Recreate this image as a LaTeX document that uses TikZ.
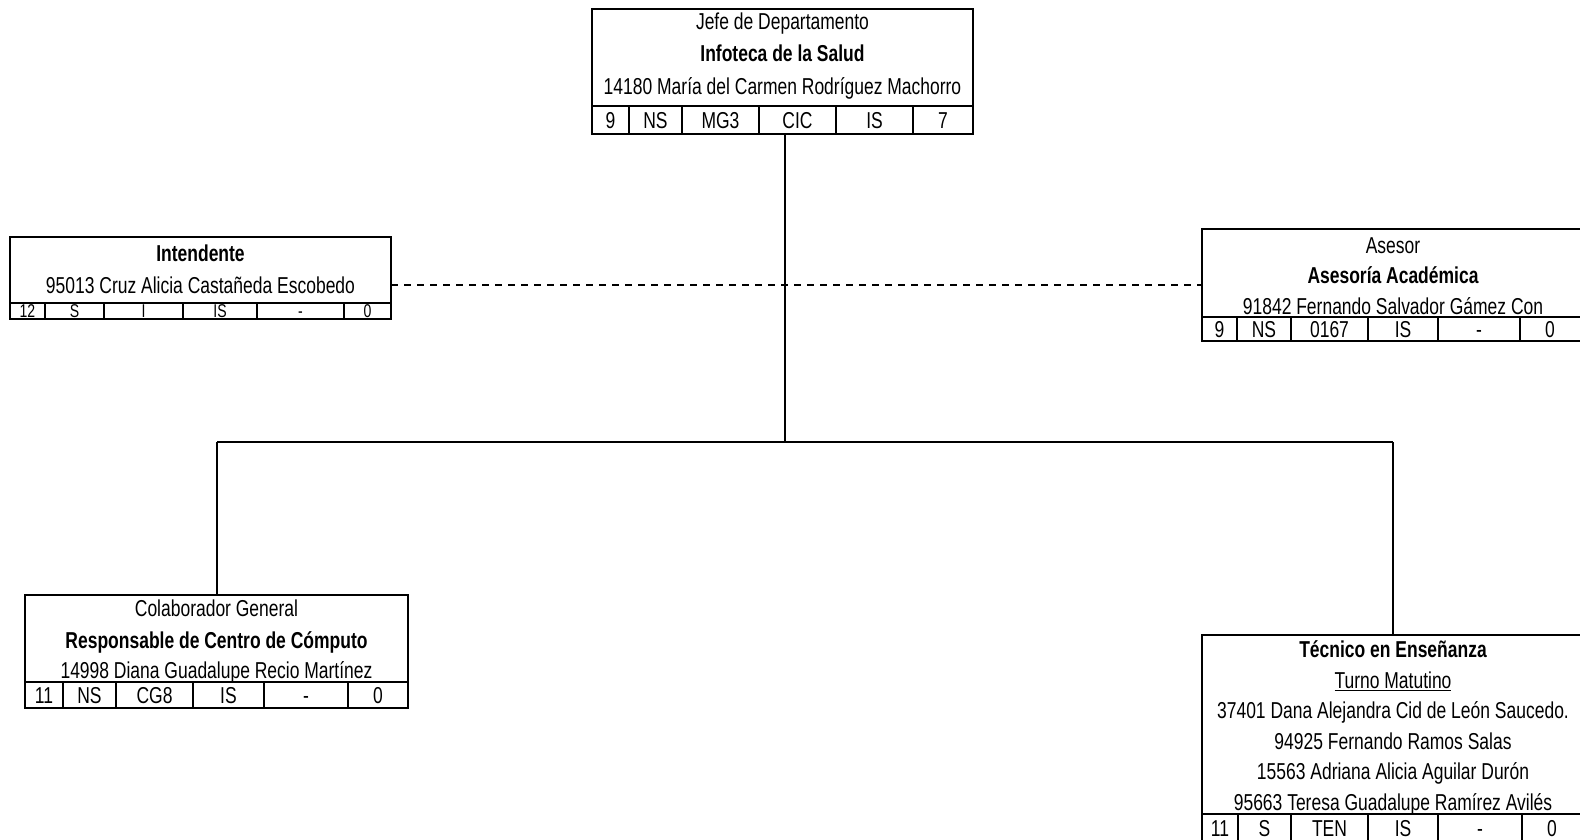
\documentclass[tikz,border=0pt]{standalone}
\usepackage{fontspec}
\setmainfont{Liberation Sans}[FakeStretch=0.76]
\begin{document}
\begin{tikzpicture}[x=1pt,y=-1pt,
  box/.style={draw,line width=2.6pt,inner sep=0pt,outer sep=0pt,anchor=north west},
  grid/.style={line width=2.6pt},
  conn/.style={line width=1.9pt},
  dconn/.style={line width=1.8pt,dash pattern=on 7pt off 6pt},
  txt/.style={inner sep=0pt,text height=16.5pt,text depth=0pt,font=\fontsize{23}{27}\selectfont},
  btxt/.style={txt,font=\fontsize{23}{27}\selectfont\bfseries},
  stxt/.style={inner sep=0pt,text height=13pt,text depth=0pt,font=\fontsize{18.5}{22}\selectfont}]
\useasboundingbox (0,0) rectangle (1580,839);

% ---------- top box ----------
\node[box,minimum width=381pt,minimum height=125pt] (top) at (592,9) {};
\draw[grid] (592,106) -- (973,106);
\foreach \x in {629,682,759,836,913} \draw[grid] (\x,106) -- (\x,134);
\node[txt]  (t1) at (782.5,21) {Jefe de Departamento};
\node[btxt] (t2) at (782.5,53) {Infoteca de la Salud};
\node[txt]  (t3) at (782.5,86) {14180 María del Carmen Rodríguez Machorro};
\node[txt] (tc1) at (610.5,120) {9};
\node[txt] (tc2) at (655.5,120) {NS};
\node[txt] (tc3) at (720.5,120) {MG3};
\node[txt] (tc4) at (797.5,120) {CIC};
\node[txt] (tc5) at (874.5,120) {IS};
\node[txt] (tc6) at (943,120) {7};

% ---------- intendente ----------
\node[box,minimum width=381pt,minimum height=82pt] (int) at (10,237) {};
\draw[grid] (10,303) -- (391,303);
\foreach \x in {45,104,183,257,344} \draw[grid] (\x,303) -- (\x,319);
\node[btxt] (i1) at (200.5,253) {Intendente};
\node[txt]  (i2) at (200.5,285) {95013 Cruz Alicia Castañeda Escobedo};
\node[stxt] (ic1) at (27.5,311) {12};
\node[stxt] (ic2) at (74.5,311) {S};
\node[stxt] (ic3) at (143.5,311) {I};
\node[stxt] (ic4) at (220,311) {IS};
\node[stxt] (ic5) at (300.5,311) {-};
\node[stxt] (ic6) at (367.5,311) {0};

% ---------- asesor ----------
\node[box,minimum width=382pt,minimum height=112pt] (ase) at (1202,229) {};
\draw[grid] (1202,317) -- (1584,317);
\foreach \x in {1237,1291,1368,1438,1520} \draw[grid] (\x,317) -- (\x,341);
\node[txt]  (a1) at (1393,245) {Asesor};
\node[btxt] (a2) at (1393,275) {Asesoría Académica};
\node[txt]  (a3) at (1393,306) {91842 Fernando Salvador Gámez Con};
\node[txt] (ac1) at (1219.5,329) {9};
\node[txt] (ac2) at (1264,329) {NS};
\node[txt] (ac3) at (1329.5,329) {0167};
\node[txt] (ac4) at (1403,329) {IS};
\node[txt] (ac5) at (1479,329) {-};
\node[txt] (ac6) at (1550,329) {0};

% ---------- colaborador ----------
\node[box,minimum width=383pt,minimum height=113pt] (col) at (25,595) {};
\draw[grid] (25,682) -- (408,682);
\foreach \x in {63,116,193,264,348} \draw[grid] (\x,682) -- (\x,708);
\node[txt]  (c1) at (216.5,608) {Colaborador General};
\node[btxt] (c2) at (216.5,640) {Responsable de Centro de Cómputo};
\node[txt]  (c3) at (216.5,670) {14998 Diana Guadalupe Recio Martínez};
\node[txt] (cc1) at (44,695) {11};
\node[txt] (cc2) at (89.5,695) {NS};
\node[txt] (cc3) at (154.5,695) {CG8};
\node[txt] (cc4) at (228.5,695) {IS};
\node[txt] (cc5) at (306,695) {-};
\node[txt] (cc6) at (378,695) {0};

% ---------- tecnico ----------
\node[box,minimum width=382pt,minimum height=212pt] (tec) at (1202,635) {};
\draw[grid] (1202,814) -- (1584,814);
\foreach \x in {1238,1291,1368,1438,1522} \draw[grid] (\x,814) -- (\x,846);
\node[btxt] (e1) at (1393,649) {Técnico en Enseñanza};
\node[txt]  (e2) at (1393,680) {\underline{Turno Matutino}};
\node[txt]  (e3) at (1393,710) {37401 Dana Alejandra Cid de León Saucedo.};
\node[txt]  (e4) at (1393,741) {94925 Fernando Ramos Salas};
\node[txt]  (e5) at (1393,771) {15563 Adriana Alicia Aguilar Durón};
\node[txt]  (e6) at (1393,802) {95663 Teresa Guadalupe Ramírez Avilés};
\node[txt] (ec1) at (1220,828) {11};
\node[txt] (ec2) at (1264.5,828) {S};
\node[txt] (ec3) at (1329.5,828) {TEN};
\node[txt] (ec4) at (1403,828) {IS};
\node[txt] (ec5) at (1480,828) {-};
\node[txt] (ec6) at (1552,828) {0};

% ---------- connectors ----------
\coordinate (hub) at (785,442);
\coordinate (lc) at (217,442);
\coordinate (rc) at (1393,442);
\draw[conn] (top.south -| hub) -- (hub);
\draw[conn] (lc) -- (rc);
\draw[conn] (lc) -- (lc |- col.north);
\draw[conn] (rc) -- (rc |- tec.north);
\draw[dconn] (ase.west -| int.east) -- (ase.west);
\end{tikzpicture}
\end{document}
